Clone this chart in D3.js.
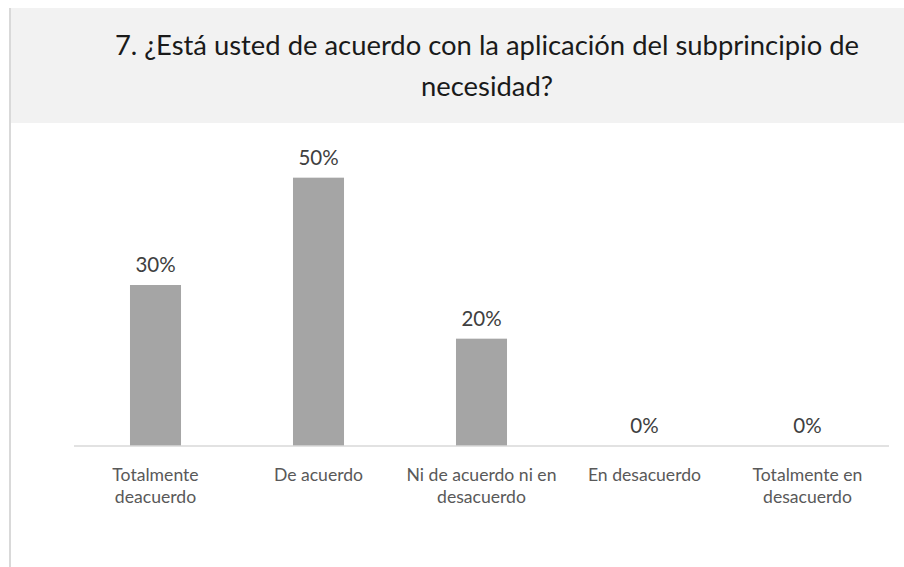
<!DOCTYPE html>
<html><head><meta charset="utf-8">
<script src="https://cdn.jsdelivr.net/npm/d3@7"></script>
<style>html,body{margin:0;padding:0;background:#fff;}svg{display:block;}</style>
</head><body>
<script>
const categories = [["Totalmente","deacuerdo"],["De acuerdo"],["Ni de acuerdo ni en","desacuerdo"],["En desacuerdo"],["Totalmente en","desacuerdo"]];
const values = [0.30, 0.50, 0.20, 0.00, 0.00];
const labels = ["30%","50%","20%","0%","0%"];
const titleLines = ["7. ¿Está usted de acuerdo con la aplicación del subprincipio de","necesidad?"];

const W = 904, H = 567;
const font = "Lato, 'Open Sans', sans-serif";
const svg = d3.select("body").append("svg").attr("width", W).attr("height", H);

// title band
svg.append("rect").attr("x", 11).attr("y", 8).attr("width", W - 11).attr("height", 115).attr("fill", "#f2f2f2");
svg.append("line").attr("x1", 10).attr("x2", 10).attr("y1", 8).attr("y2", H).attr("stroke", "#d9d9d9").attr("stroke-width", 2);

const tt = svg.append("text").attr("text-anchor", "middle").attr("fill", "#1a1a1a")
  .style("font-family", font).style("font-size", "27.4px");
titleLines.forEach((l, i) => tt.append("tspan").attr("x", 487).attr("y", 55 + i * 41).text(l));

const x = d3.scaleBand().domain(d3.range(categories.length)).range([74, 889]).paddingInner(0.687).paddingOuter(0.3435);
const y = d3.scaleLinear().domain([0, 0.6]).range([446, 124]);

svg.append("g").selectAll("rect").data(values).join("rect")
  .attr("x", (d, i) => x(i)).attr("width", x.bandwidth())
  .attr("y", d => y(d)).attr("height", d => y(0) - y(d)).attr("fill", "#a5a5a5");

svg.append("line").attr("x1", 74).attr("x2", 889).attr("y1", y(0)).attr("y2", y(0)).attr("stroke", "#d9d9d9").attr("stroke-width", 1.5);

svg.append("g").selectAll("text").data(values).join("text")
  .attr("x", (d, i) => x(i) + x.bandwidth() / 2).attr("y", d => y(d) - 13)
  .attr("text-anchor", "middle").attr("fill", "#404040")
  .style("font-family", font).style("font-size", "20.5px").text((d, i) => labels[i]);

const cg = svg.append("g");
categories.forEach((c, i) => {
  const t = cg.append("text").attr("text-anchor", "middle").attr("fill", "#595959")
    .style("font-family", font).style("font-size", "17.6px");
  c.forEach((l, j) => t.append("tspan").attr("x", x(i) + x.bandwidth() / 2).attr("y", 481 + j * 22).text(l));
});
</script>
</body></html>
